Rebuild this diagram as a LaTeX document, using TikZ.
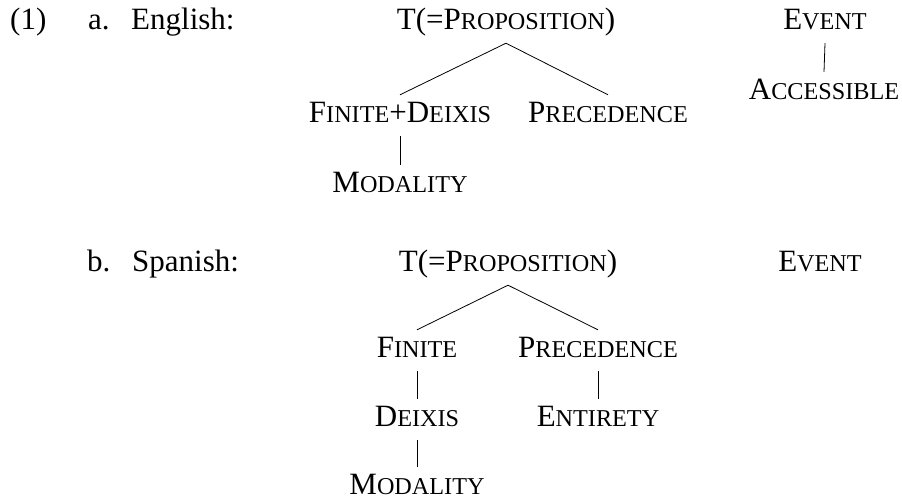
\documentclass[tikz,border=0pt]{standalone}
\usepackage{fontspec}
\setmainfont{Liberation Serif}
% small caps built from full capitals and reduced capitals
\newcommand\SCw[2]{#1{\fontsize{24.2}{28}\selectfont #2}}
\begin{document}
\begin{tikzpicture}[x=1pt,y=1pt,
  every node/.style={font=\fontsize{31}{36}\selectfont},
  lbl/.style={anchor=base west, inner sep=0},
  cat/.style={anchor=base, inner xsep=0, inner ysep=7pt, text height=20pt, text depth=7pt},
  branch/.style={line width=0.8pt}]
\useasboundingbox (0,0) rectangle (902,-499);

% example (1a): English
\node[lbl] (num)  at (10,-29)  {(1)};
\node[lbl] (la)   at (88,-29)  {a.};
\node[lbl] (eng)  at (131,-29) {English:};
\node[cat] (Ta)   at (506,-29) {T(=\SCw{P}{ROPOSITION})};
\node[cat] (Ea)   at (825,-29) {\SCw{E}{VENT}};
\node[cat] (Acc)  at (824,-99) {\SCw{A}{CCESSIBLE}};
\node[cat] (FDa)  at (400,-122) {\SCw{F}{INITE}+\SCw{D}{EIXIS}};
\node[cat] (Pa)   at (608,-122) {\SCw{P}{RECEDENCE}};
\node[cat] (Ma)   at (400,-192) {\SCw{M}{ODALITY}};

\draw[branch] (FDa.north) -- (Ta.south) -- (Pa.north);
\draw[branch] (FDa.south) -- (Ma.north);
\draw[branch] (Ea.south) -- (Acc.north);

% example (1b): Spanish
\node[lbl] (lb)   at (87,-271)  {b.};
\node[lbl] (spa)  at (132,-271) {Spanish:};
\node[cat] (Tb)   at (508,-271) {T(=\SCw{P}{ROPOSITION})};
\node[cat] (Eb)   at (820,-271) {\SCw{E}{VENT}};
\node[cat] (Fb)   at (417,-357) {\SCw{F}{INITE}};
\node[cat] (Pb)   at (598,-357) {\SCw{P}{RECEDENCE}};
\node[cat] (Db)   at (417,-426) {\SCw{D}{EIXIS}};
\node[cat] (Nb)   at (598,-426) {\SCw{E}{NTIRETY}};
\node[cat] (Mb)   at (417,-494) {\SCw{M}{ODALITY}};

\draw[branch] (Fb.north) -- (Tb.south) -- (Pb.north);
\draw[branch] (Fb.south) -- (Db.north);
\draw[branch] (Db.south) -- (Mb.north);
\draw[branch] (Pb.south) -- (Nb.north);
\end{tikzpicture}
\end{document}
